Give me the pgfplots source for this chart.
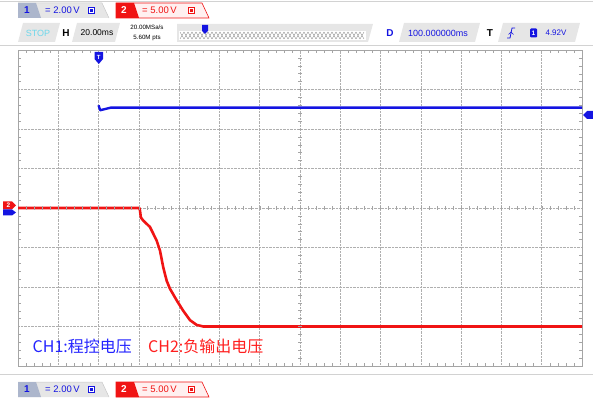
\documentclass[border=0pt]{standalone}
\usepackage{pgfplots}
\pgfplotsset{compat=1.18}
\usepackage{pgfplotstable}
\usepackage{fontspec}
\setmainfont{Liberation Sans}
\newfontfamily\cjk{Noto Sans CJK SC}

\definecolor{chA}{RGB}{20,20,225}
\definecolor{chB}{RGB}{240,20,20}
\definecolor{lblA}{RGB}{35,35,255}
\definecolor{lblB}{RGB}{255,30,30}
\definecolor{gridc}{RGB}{175,175,175}
\definecolor{framec}{RGB}{165,165,165}
\definecolor{badgeA}{RGB}{172,182,204}
\definecolor{panel}{RGB}{230,230,230}
\definecolor{panelb}{RGB}{200,200,200}
\definecolor{stopc}{RGB}{110,215,235}

% CH1, volts (2 V/div), before the trigger (hidden under CH2)
\pgfplotstableread{
t    v
-40  0
-0.3 0
}\chonepre

% CH1 after the trigger at t = 0
\pgfplotstableread{
t    v
0    5.20
0.8  4.95
2    4.98
6    5.08
240  5.08
}\chone

% CH2, volts (5 V/div)
\pgfplotstableread{
t    v
-40  0
20.3 0
20.6 -0.4
21.0 -1.2
22.2 -1.6
25.5 -2.4
28.8 -4.1
30.5 -5.4
32.1 -7.5
33.8 -9.2
35.4 -10.2
38.8 -11.7
42.0 -13.0
45.4 -14.2
48.7 -14.8
52.0 -15.0
240  -15.0
}\chtwo

\begin{document}
\begin{tikzpicture}[x=1pt,y=1pt]
\useasboundingbox (0,0) rectangle (593,401);
\begin{axis}[
  at={(18pt,35pt)}, anchor=south west,
  scale only axis, width=564pt, height=316pt,
  xmin=-40, xmax=240, ymin=-4, ymax=4,
  xtick={-40,-20,...,240}, ytick={-4,-3,...,4},
  minor x tick num=4, minor y tick num=4,
  xticklabels={}, yticklabels={},
  xtick pos=both, ytick pos=both,
  grid=major,
  major grid style={densely dotted, gridc, line width=0.5pt},
  axis line style={framec, line width=0.6pt},
  tick align=inside, major tick length=0pt, minor tick length=3pt,
  minor tick style={framec, line width=0.4pt},
]
\addplot[chA, line width=2.2pt] table[x=t, y expr=\thisrow{v}/2] {\chonepre};
\addplot[chA, line width=2.4pt, line join=round] table[x=t, y expr=\thisrow{v}/2] {\chone};
\addplot[chB, line width=2.6pt, line join=round] table[x=t, y expr=\thisrow{v}/5] {\chtwo};
\end{axis}

\begin{scope}[shift={(0,401)}, yscale=-1]
  % crosshair ticks
  \foreach \k in {1,...,69} \draw[framec, line width=0.4pt] ({18+\k*8.057},206.2) -- ++(0,3.6);
  \foreach \k in {1,...,39} \draw[framec, line width=0.4pt] (298.2,{50+\k*7.9}) -- ++(3.6,0);

  % separators
  \draw[gray!35, line width=0.6pt] (0,1) -- (593,1);
  \draw[gray!35, line width=0.6pt] (0,45) -- (593,45);
  \draw[gray!35, line width=0.6pt] (0,374) -- (593,374);

  % channel markers
  \fill[chB] (3,201.5) -- (12,201.5) -- (16,205.5) -- (12,209.5) -- (3,209.5) -- cycle;
  \node[text=white, font=\bfseries\fontsize{6.5}{6.5}\selectfont, inner sep=0] at (8.5,205.5) {2};
  \fill[chA] (3,209.5) -- (12,209.5) -- (16,212.5) -- (12,215.5) -- (3,215.5) -- cycle;
  \fill[chA] (94.5,52) -- (103,52) -- (103,59) -- (98.8,64) -- (94.5,59) -- cycle;
  \node[text=white, font=\bfseries\fontsize{6}{6}\selectfont, inner sep=0] at (98.8,57) {T};
  \fill[chA] (583,115) -- (587,111) -- (593,111) -- (593,119) -- (587,119) -- cycle;

  % channel labels
  \node[anchor=west, inner sep=0, text=lblA, font=\cjk\fontsize{16}{18}\selectfont] at (32.5,346) {CH1:程控电压};
  \node[anchor=west, inner sep=0, text=lblB, font=\cjk\fontsize{16}{18}\selectfont] at (148,346) {CH2:负输出电压};

  % channel badges, top and bottom
  \foreach \yy in {3,382} {
    \fill[panel] (18,\yy) -- (102,\yy) -- (109,\yy+15) -- (18,\yy+15) -- cycle;
    \draw[panelb, line width=0.5pt] (18,\yy) -- (102,\yy) -- (109,\yy+15);
    \fill[badgeA] (18,\yy) -- (36,\yy) -- (41,\yy+15) -- (18,\yy+15) -- cycle;
    \node[text=chA, font=\bfseries\fontsize{10}{10}\selectfont, inner sep=0] at (27,\yy+7.5) {1};
    \node[anchor=west, text=chA, font=\fontsize{9.5}{10}\selectfont, inner sep=0] at (45,\yy+7.5) {= 2.00\,V};
    \draw[chA, line width=0.7pt, fill=white] (88.5,\yy+4.5) rectangle (94.5,\yy+10.5);
    \fill[chA] (90.3,\yy+6) rectangle (92.7,\yy+9);
    \fill[red!6] (116,\yy) -- (202,\yy) -- (209,\yy+15) -- (116,\yy+15) -- cycle;
    \draw[chB, line width=0.6pt] (116,\yy) -- (202,\yy) -- (209,\yy+15) -- (116,\yy+15) -- cycle;
    \fill[chB] (116,\yy) -- (134,\yy) -- (139,\yy+15) -- (116,\yy+15) -- cycle;
    \node[text=white, font=\bfseries\fontsize{10}{10}\selectfont, inner sep=0] at (124,\yy+7.5) {2};
    \node[anchor=west, text=chB, font=\fontsize{9.5}{10}\selectfont, inner sep=0] at (142,\yy+7.5) {= 5.00\,V};
    \draw[chB, line width=0.7pt, fill=white] (188.5,\yy+4.5) rectangle (194.5,\yy+10.5);
    \fill[chB] (190.3,\yy+6) rectangle (192.7,\yy+9);
  }

  % second header row
  \fill[panel] (23,23) -- (60,23) -- (55,42) -- (18,42) -- cycle;
  \node[text=stopc, font=\fontsize{9}{9}\selectfont, inner sep=0] at (38,33) {STOP};
  \node[font=\bfseries\fontsize{10}{10}\selectfont, inner sep=0] at (66,33) {H};
  \fill[panel] (77,23) -- (120,23) -- (115,42) -- (72,42) -- cycle;
  \node[font=\fontsize{8.5}{9}\selectfont, inner sep=0] at (97,33) {20.00ms};
  \node[font=\fontsize{6.2}{6.5}\selectfont, inner sep=0] at (147,27.5) {20.00MSa/s};
  \node[font=\fontsize{6.2}{6.5}\selectfont, inner sep=0] at (147,37.5) {5.60M pts};
  \fill[panel] (177,24) -- (373,24) -- (368,42) -- (177,42) -- cycle;
  \fill[white] (179,31) rectangle (366,40);
  \foreach \i in {0,...,22} {
    \draw[gray!80, line width=0.4pt] ({180+8*\i},39) -- ({184+8*\i},32) -- ({188+8*\i},39);
    \draw[gray!80, line width=0.4pt] ({180+8*\i},32) -- ({184+8*\i},39) -- ({188+8*\i},32);
  }
  \fill[chA] (202,25) -- (208,25) -- (208,31) -- (205,34) -- (202,31) -- cycle;
  \node[text=chA, font=\bfseries\fontsize{10}{10}\selectfont, inner sep=0] at (390,33) {D};
  \fill[panel] (404,23) -- (480,23) -- (475,42) -- (399,42) -- cycle;
  \node[text=chA, font=\fontsize{9}{9}\selectfont, inner sep=0] at (438,33) {100.000000ms};
  \node[font=\bfseries\fontsize{10}{10}\selectfont, inner sep=0] at (490,33) {T};
  \fill[panel] (503,23) -- (580,23) -- (575,42) -- (498,42) -- cycle;
  \draw[chA, line width=0.8pt] (507,38) -- (510,38) -- (512,28) -- (515,28);
  \draw[chA, line width=0.6pt] (508.5,34.5) -- (511,32) -- (513.5,34.5);
  \fill[chA, rounded corners=1pt] (530,28.5) rectangle (537,37.5);
  \node[text=white, font=\bfseries\fontsize{6.5}{7}\selectfont, inner sep=0] at (533.5,33) {1};
  \node[text=chA, font=\fontsize{8}{8}\selectfont, inner sep=0] at (556,33) {4.92V};
\end{scope}
\end{tikzpicture}
\end{document}
